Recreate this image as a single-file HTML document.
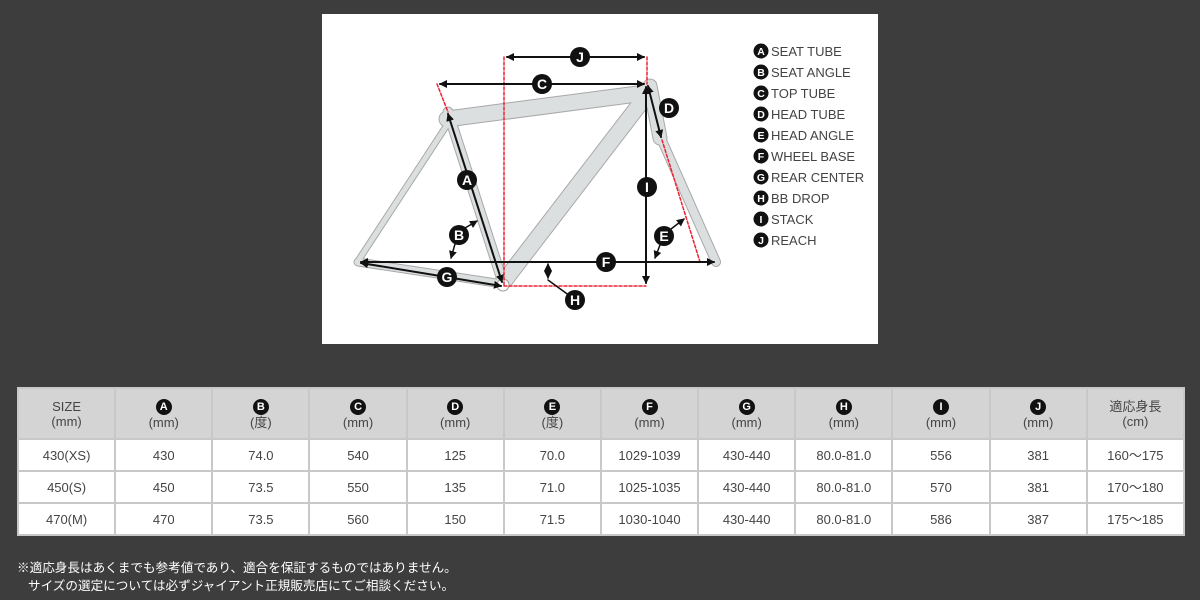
<!DOCTYPE html>
<html><head><meta charset="utf-8">
<style>
body{margin:0;width:1200px;height:600px;background:#3d3d3d;position:relative;overflow:hidden;font-family:"Liberation Sans","Noto Sans CJK JP",sans-serif;}
#panel{position:absolute;left:322px;top:14px;width:556px;height:330px;background:#fff;}
table{position:absolute;left:17px;top:387px;width:1168px;border-collapse:collapse;table-layout:fixed;background:#fff;}
td{border:2px solid #c8c8c8;text-align:center;color:#444;font-size:13px;height:30px;padding:0;line-height:15px;}
tr.h td{background:#d4d4d4;height:49px;}
.c{display:inline-block;width:16px;height:16px;border-radius:50%;background:#111;color:#fff;font-size:11px;font-weight:bold;line-height:16px;}
.foot{position:absolute;left:17px;color:#fff;font-size:12.6px;}
</style></head><body>
<div id="panel"></div>
<svg width="1200" height="600" style="position:absolute;left:0;top:0">
<defs><marker id="ar" markerWidth="8" markerHeight="8" refX="7" refY="4" orient="auto-start-reverse" markerUnits="userSpaceOnUse"><path d="M0,0L8,4L0,8z" fill="#111"/></marker></defs>
<g stroke-linecap="round" fill="none">
<g stroke="#a8a8a8">
<line x1="447" y1="119" x2="645" y2="93" stroke-width="17"/>
<line x1="643" y1="100" x2="505" y2="280" stroke-width="17"/>
<line x1="448" y1="112" x2="503" y2="283" stroke-width="11"/>
<line x1="447" y1="125" x2="358" y2="261" stroke-width="7"/>
<line x1="358" y1="262" x2="503" y2="284" stroke-width="9"/>
<line x1="650" y1="86" x2="660" y2="138" stroke-width="15"/>
<line x1="660" y1="136" x2="716" y2="262" stroke-width="10"/>
</g>
<g stroke="#dcdfe0">
<line x1="447" y1="119" x2="645" y2="93" stroke-width="15"/>
<line x1="643" y1="100" x2="505" y2="280" stroke-width="15"/>
<line x1="448" y1="112" x2="503" y2="283" stroke-width="9"/>
<line x1="447" y1="125" x2="358" y2="261" stroke-width="5"/>
<line x1="358" y1="262" x2="503" y2="284" stroke-width="7"/>
<line x1="650" y1="86" x2="660" y2="138" stroke-width="13"/>
<line x1="660" y1="136" x2="716" y2="262" stroke-width="8"/>
</g>
<circle cx="503" cy="285" r="6" fill="#fff" stroke="#999"/>
<g stroke="#e23" stroke-width="1.5" stroke-dasharray="3,2">
<line x1="504" y1="57" x2="504" y2="286"/>
<line x1="647" y1="57" x2="647" y2="84"/>
<line x1="437" y1="84" x2="448" y2="112"/>
<line x1="504" y1="286" x2="646" y2="286"/>
<line x1="662" y1="140" x2="700" y2="262"/>
</g>
<g stroke="#111" stroke-width="2">
<line x1="507" y1="57" x2="644" y2="57" marker-start="url(#ar)" marker-end="url(#ar)"/>
<line x1="440" y1="84" x2="644" y2="84" marker-start="url(#ar)" marker-end="url(#ar)"/>
<line x1="648" y1="86" x2="661" y2="137" marker-start="url(#ar)" marker-end="url(#ar)"/>
<line x1="448" y1="114" x2="502" y2="282" marker-start="url(#ar)" marker-end="url(#ar)"/>
<line x1="646" y1="87" x2="646" y2="283" marker-start="url(#ar)" marker-end="url(#ar)"/>
<line x1="361" y1="262" x2="714" y2="262" marker-start="url(#ar)" marker-end="url(#ar)"/>
<line x1="361" y1="263" x2="501" y2="286" marker-start="url(#ar)" marker-end="url(#ar)"/>
<line x1="548" y1="264" x2="548" y2="278" stroke-width="1.5" marker-start="url(#ar)" marker-end="url(#ar)"/>
<line x1="548" y1="280" x2="570" y2="296" stroke-width="1.5"/>
<line x1="465" y1="228" x2="477" y2="221" stroke-width="1.5" marker-end="url(#ar)"/>
<line x1="455" y1="244" x2="451" y2="258" stroke-width="1.5" marker-end="url(#ar)"/>
<line x1="671" y1="229" x2="684" y2="219" stroke-width="1.5" marker-end="url(#ar)"/>
<line x1="660" y1="245" x2="655" y2="258" stroke-width="1.5" marker-end="url(#ar)"/>
</g>
</g>
<g font-family="Liberation Sans" font-weight="bold" font-size="14" fill="#fff" text-anchor="middle">
<circle cx="580" cy="57" r="10" fill="#111"/><text x="580" y="62">J</text>
<circle cx="542" cy="84" r="10" fill="#111"/><text x="542" y="89">C</text>
<circle cx="669" cy="108" r="10" fill="#111"/><text x="669" y="113">D</text>
<circle cx="467" cy="180" r="10" fill="#111"/><text x="467" y="185">A</text>
<circle cx="647" cy="187" r="10" fill="#111"/><text x="647" y="192">I</text>
<circle cx="459" cy="235" r="10" fill="#111"/><text x="459" y="240">B</text>
<circle cx="664" cy="236" r="10" fill="#111"/><text x="664" y="241">E</text>
<circle cx="606" cy="262" r="10" fill="#111"/><text x="606" y="267">F</text>
<circle cx="447" cy="277" r="10" fill="#111"/><text x="447" y="282">G</text>
<circle cx="575" cy="300" r="10" fill="#111"/><text x="575" y="305">H</text>
</g>
<g font-family="Liberation Sans" font-size="13">
<g fill="#111">
<circle cx="761" cy="51" r="7.5"/><circle cx="761" cy="72" r="7.5"/><circle cx="761" cy="93" r="7.5"/><circle cx="761" cy="114" r="7.5"/><circle cx="761" cy="135" r="7.5"/><circle cx="761" cy="156" r="7.5"/><circle cx="761" cy="177" r="7.5"/><circle cx="761" cy="198" r="7.5"/><circle cx="761" cy="219" r="7.5"/><circle cx="761" cy="240" r="7.5"/>
</g>
<g fill="#fff" font-size="10.5" font-weight="bold" text-anchor="middle">
<text x="761" y="55">A</text><text x="761" y="76">B</text><text x="761" y="97">C</text><text x="761" y="118">D</text><text x="761" y="139">E</text><text x="761" y="160">F</text><text x="761" y="181">G</text><text x="761" y="202">H</text><text x="761" y="223">I</text><text x="761" y="244">J</text>
</g>
<g fill="#444">
<text x="771" y="56">SEAT TUBE</text><text x="771" y="77">SEAT ANGLE</text><text x="771" y="98">TOP TUBE</text><text x="771" y="119">HEAD TUBE</text><text x="771" y="140">HEAD ANGLE</text><text x="771" y="161">WHEEL BASE</text><text x="771" y="182">REAR CENTER</text><text x="771" y="203">BB DROP</text><text x="771" y="224">STACK</text><text x="771" y="245">REACH</text>
</g>
</g>
</svg>
<table>
<tr class="h"><td>SIZE<br>(mm)</td><td><span class="c">A</span><br>(mm)</td><td><span class="c">B</span><br>(度)</td><td><span class="c">C</span><br>(mm)</td><td><span class="c">D</span><br>(mm)</td><td><span class="c">E</span><br>(度)</td><td><span class="c">F</span><br>(mm)</td><td><span class="c">G</span><br>(mm)</td><td><span class="c">H</span><br>(mm)</td><td><span class="c">I</span><br>(mm)</td><td><span class="c">J</span><br>(mm)</td><td>適応身長<br>(cm)</td></tr>
<tr><td>430(XS)</td><td>430</td><td>74.0</td><td>540</td><td>125</td><td>70.0</td><td>1029-1039</td><td>430-440</td><td>80.0-81.0</td><td>556</td><td>381</td><td>160～175</td></tr>
<tr><td>450(S)</td><td>450</td><td>73.5</td><td>550</td><td>135</td><td>71.0</td><td>1025-1035</td><td>430-440</td><td>80.0-81.0</td><td>570</td><td>381</td><td>170～180</td></tr>
<tr><td>470(M)</td><td>470</td><td>73.5</td><td>560</td><td>150</td><td>71.5</td><td>1030-1040</td><td>430-440</td><td>80.0-81.0</td><td>586</td><td>387</td><td>175～185</td></tr>
</table>
<div class="foot" style="top:557px">※適応身長はあくまでも参考値であり、適合を保証するものではありません。</div>
<div class="foot" style="top:575px;left:28px">サイズの選定については必ずジャイアント正規販売店にてご相談ください。</div>
</body></html>
